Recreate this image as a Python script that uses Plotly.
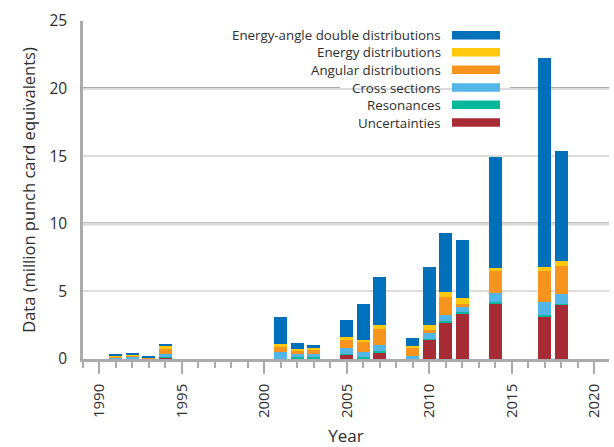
import plotly.graph_objects as go

years = [1991, 1992, 1993, 1994, 2001, 2002, 2003, 2005, 2006, 2007, 2009, 2010, 2011, 2012, 2014, 2017, 2018]

uncertainties = [0.0, 0.0, 0.0, 0.10, 0.0, 0.07, 0.05, 0.35, 0.07, 0.47, 0.0, 1.43, 2.67, 3.33, 4.07, 3.11, 4.00]
resonances = [0.0, 0.0, 0.0, 0.07, 0.03, 0.05, 0.12, 0.05, 0.05, 0.10, 0.0, 0.07, 0.15, 0.15, 0.15, 0.15, 0.07]
cross_sections = [0.10, 0.20, 0.0, 0.20, 0.52, 0.27, 0.17, 0.40, 0.42, 0.49, 0.22, 0.42, 0.44, 0.37, 0.67, 0.99, 0.74]
angular = [0.08, 0.07, 0.13, 0.40, 0.37, 0.22, 0.35, 0.64, 0.74, 1.19, 0.62, 0.22, 1.33, 0.22, 1.63, 2.27, 2.07]
energy = [0.07, 0.07, 0.0, 0.20, 0.17, 0.15, 0.15, 0.22, 0.15, 0.30, 0.15, 0.37, 0.37, 0.44, 0.22, 0.30, 0.37]
energy_angle = [0.10, 0.07, 0.07, 0.10, 2.05, 0.44, 0.22, 1.26, 2.67, 3.48, 0.59, 4.30, 4.37, 4.30, 8.22, 15.48, 8.15]

series_names = ["Energy-angle double distributions", "Energy distributions", "Angular distributions",
                "Cross sections", "Resonances", "Uncertainties"]
series_values = [energy_angle, energy, angular, cross_sections, resonances, uncertainties]
series_colors = ["#0070BA", "#FDC80D", "#F7941D", "#52B6E8", "#09B79B", "#A72B34"]

x_tick_vals = [1990, 1995, 2000, 2005, 2010, 2015, 2020]
y_tick_vals = [0, 5, 10, 15, 20, 25]

fig = go.Figure()
# stack from bottom (Uncertainties) to top (Energy-angle)
for name, vals, col in reversed(list(zip(series_names, series_values, series_colors))):
    fig.add_trace(go.Bar(x=years, y=vals, name=name, marker=dict(color=col, line=dict(width=0)),
                         showlegend=False))

FONT = "'Open Sans', 'Noto Sans', sans-serif"
TXT = "#2E2E2E"
AX = "#ABABAF"

# plot area geometry (pixels)
L, R, T, B = 83, 5, 20.7, 88
W = 614 - L - R
H = 447 - T - B

def px_x(px):
    return (px - L) / W

def px_y(py):
    return (447 - B - py) / H

shapes = []
# white box behind legend (hides gridline)
shapes.append(dict(type="rect", xref="paper", yref="paper", x0=px_x(340), x1=px_x(508),
                   y0=px_y(132), y1=px_y(27), fillcolor="white", line=dict(width=0), layer="between"))
# darker gridlines at 10 and 20
shapes.append(dict(type="line", xref="paper", yref="y", x0=0, x1=1, y0=10, y1=10,
                   line=dict(color=AX, width=3), layer="between"))
shapes.append(dict(type="line", xref="paper", yref="y", x0=0, x1=px_x(340), y0=20, y1=20,
                   line=dict(color=AX, width=3), layer="between"))
shapes.append(dict(type="line", xref="paper", yref="y", x0=px_x(510), x1=1, y0=20, y1=20,
                   line=dict(color=AX, width=3), layer="between"))

annotations = []
row_y = [35, 52, 69.5, 87.3, 104.5, 122.3]
for name, col, ry in zip(series_names, series_colors, row_y):
    annotations.append(dict(xref="paper", yref="paper", x=px_x(442), y=px_y(ry), text=name,
                            showarrow=False, xanchor="right", yanchor="middle", borderpad=0,
                            font=dict(family=FONT, size=13.3, color=TXT)))
    shapes.append(dict(type="rect", xref="paper", yref="paper", x0=px_x(452), x1=px_x(500),
                       y0=px_y(ry + 4.2), y1=px_y(ry - 4.2), fillcolor=col, line=dict(width=0),
                       layer="above"))

fig.update_layout(
    barmode="stack",
    bargap=0.21,
    width=614, height=447,
    margin=dict(l=L, r=R, t=T, b=B, pad=0),
    paper_bgcolor="white", plot_bgcolor="white",
    font=dict(family=FONT, color=TXT, size=15),
    shapes=shapes,
    annotations=annotations,
    showlegend=False,
)
fig.update_xaxes(
    automargin=False,
    range=[1989.0, 2020.9],
    tickvals=x_tick_vals,
    ticktext=[str(v) for v in x_tick_vals],
    tickangle=-90,
    ticks="outside", ticklen=12, tickwidth=2, tickcolor=AX,
    minor=dict(dtick=1, tick0=1990, ticks="outside", ticklen=6, tickwidth=2, tickcolor=AX, showgrid=False),
    showline=True, linecolor=AX, linewidth=2.5,
    showgrid=False, zeroline=False,
    tickfont=dict(size=15, color=TXT),
    ticklabelstandoff=4,
    title=dict(text="Year", font=dict(size=17, color=TXT), standoff=14),
)
fig.update_yaxes(
    automargin=False,
    range=[0, 25],
    tickvals=y_tick_vals,
    ticks="", showline=True, linecolor=AX, linewidth=2.5,
    showgrid=True, gridcolor="#DCDCDE", gridwidth=2,
    zeroline=False,
    tickfont=dict(size=15.5, color=TXT),
    ticklabelstandoff=10,
    title=dict(text="Data (million punch card equivalents)", font=dict(size=16.5, color=TXT), standoff=10),
)

fig.write_html("out.html", config={"displayModeBar": False},
               post_script="document.body.style.margin='0';document.body.style.overflow='hidden';")
